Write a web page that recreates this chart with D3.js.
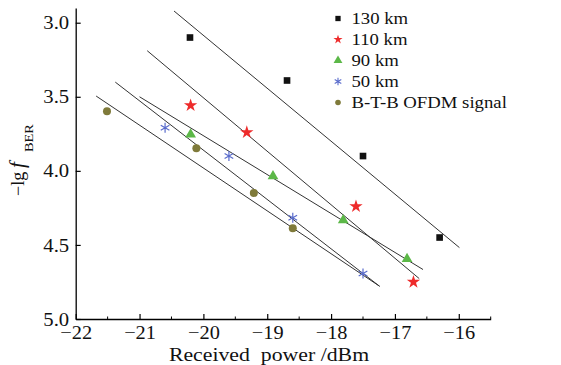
<!DOCTYPE html>
<html><head><meta charset="utf-8">
<script src="https://cdn.jsdelivr.net/npm/d3@7"></script>
<style>
html,body{margin:0;padding:0;background:#fff;}
svg{display:block;font-family:"Liberation Serif","Times New Roman",serif;}
</style></head>
<body>
<svg id="c" width="561" height="365"></svg>
<script>
// ---- data ----
const xTicks = [-22, -21, -20, -19, -18, -17, -16];
const xMinorTicks = [-21.5, -20.5, -19.5, -18.5, -17.5, -16.5, -15.5];
const yTicks = [3.0, 3.5, 4.0, 4.5, 5.0];
const seriesNames = ["130 km", "110 km", "90 km", "50 km", "B-T-B OFDM signal"];
const x130 = [-20.21, -18.69, -17.50, -16.30];
const y130 = [3.10, 3.39, 3.90, 4.45];
const x110 = [-20.20, -19.32, -17.61, -16.71];
const y110 = [3.558, 3.74, 4.24, 4.75];
const x90 = [-20.20, -18.91, -17.81, -16.81];
const y90 = [3.754, 4.036, 4.333, 4.595];
const x50 = [-20.60, -19.60, -18.60, -17.50];
const y50 = [3.709, 3.899, 4.317, 4.693];
const xBtb = [-21.51, -20.11, -19.21, -18.60];
const yBtb = [3.597, 3.847, 4.149, 4.387];
// fitted lines: [x start, x end], [y start, y end]
const fit130x = [-20.46, -15.99], fit130y = [2.921, 4.518];
const fit110x = [-20.88, -16.62], fit110y = [3.189, 4.727];
const fit90x = [-21.00, -16.56], fit90y = [3.500, 4.666];
const fit50x = [-21.38, -17.24], fit50y = [3.401, 4.779];
const fitBtbx = [-21.68, -17.24], fitBtby = [3.495, 4.779];

// ---- chart ----
const svg = d3.select("#c");
const x = d3.scaleLinear().domain([-22, -15.5]).range([75.7, 490.7]);
const y = d3.scaleLinear().domain([2.9, 5.0]).range([7.9, 319]);

function stretch(sel, f) {
  sel.each(function () {
    const len = this.getComputedTextLength();
    d3.select(this).attr("textLength", len * f).attr("lengthAdjust", "spacingAndGlyphs");
  });
}

// fit lines
const fits = [[fit130x, fit130y], [fit110x, fit110y], [fit90x, fit90y], [fit50x, fit50y], [fitBtbx, fitBtby]];
svg.append("g").selectAll("line").data(fits).join("line")
  .attr("x1", d => x(d[0][0])).attr("y1", d => y(d[1][0]))
  .attr("x2", d => x(d[0][1])).attr("y2", d => y(d[1][1]))
  .attr("stroke", "#333").attr("stroke-width", 1);

// axes
const xAxis = svg.append("g").attr("transform", `translate(0,${y(5.0)})`)
  .call(d3.axisBottom(x).tickValues(xTicks).tickSizeInner(-5).tickSizeOuter(0)
    .tickFormat(d => d3.format("d")(d).replace("-", "\u2212")));
xAxis.select(".domain").attr("stroke", "#000").attr("stroke-width", 1.3);
xAxis.selectAll(".tick line").attr("stroke", "#000").attr("stroke-width", 1.2);
xAxis.selectAll(".tick text").attr("font-size", 18.5).attr("fill", "#111").attr("y", 7).attr("dy", "0.72em")
  .attr("font-family", "Liberation Serif");
stretch(xAxis.selectAll(".tick text"), 1.1);
svg.append("g").selectAll("line").data(xMinorTicks).join("line")
  .attr("x1", d => x(d)).attr("x2", d => x(d)).attr("y1", y(5.0)).attr("y2", y(5.0) - 2.5)
  .attr("stroke", "#000").attr("stroke-width", 1);

const yAxis = svg.append("g").attr("transform", `translate(${x(-22)},0)`)
  .call(d3.axisLeft(y).tickValues(yTicks).tickSizeInner(-5).tickSizeOuter(0).tickFormat(d3.format(".1f")));
yAxis.select(".domain").attr("stroke", "#000").attr("stroke-width", 1.3);
yAxis.selectAll(".tick line").attr("stroke", "#000").attr("stroke-width", 1.2);
yAxis.selectAll(".tick text").attr("font-size", 19).attr("fill", "#111").attr("x", -6.5)
  .attr("font-family", "Liberation Serif");
stretch(yAxis.selectAll(".tick text"), 1.09);

// axis titles
const xt = svg.append("text").attr("x", 269).attr("y", 361).attr("text-anchor", "middle")
  .attr("font-size", 18).attr("fill", "#111").text("Received\u00a0\u00a0power\u00a0/dBm");
stretch(xt, 1.21);

const yl = svg.append("g").attr("transform", "translate(24,196) rotate(-90)");
yl.append("text").attr("x", 0).attr("y", 0).attr("font-size", 18).attr("fill", "#111").text("\u2212lg");
yl.append("text").attr("x", 28).attr("y", 0).attr("font-size", 21).attr("font-style", "italic").attr("fill", "#111").text("f");
const ber = yl.append("text").attr("x", 44).attr("y", 9).attr("font-size", 12.5).attr("fill", "#111").text("BER");
stretch(ber, 1.15);

// markers
const plot = svg.append("g");
function pts(xs, ys) { return xs.map((v, i) => [v, ys[i]]); }
const asteriskPath = (r) => {
  let p = "";
  for (let k = 0; k < 3; k++) {
    const a = Math.PI / 2 + k * Math.PI / 3;
    p += `M${r * Math.cos(a)},${r * Math.sin(a)}L${-r * Math.cos(a)},${-r * Math.sin(a)}`;
  }
  return p;
};

const colors = { s130: "#111", s110: "#ee2b2b", s90: "#5cb848", s50: "#5a6ccc", btb: "#7f7a3a" };

plot.selectAll(".sq").data(pts(x130, y130)).join("path").attr("class", "sq")
  .attr("transform", d => `translate(${x(d[0])},${y(d[1])})`)
  .attr("d", d3.symbol(d3.symbolSquare, 44)()).attr("fill", colors.s130);
plot.selectAll(".st").data(pts(x110, y110)).join("path").attr("class", "st")
  .attr("transform", d => `translate(${x(d[0])},${y(d[1])})`)
  .attr("d", d3.symbol(d3.symbolStar, 55)()).attr("fill", colors.s110);
plot.selectAll(".tr").data(pts(x90, y90)).join("path").attr("class", "tr")
  .attr("transform", d => `translate(${x(d[0])},${y(d[1])})`)
  .attr("d", d3.symbol(d3.symbolTriangle, 50)()).attr("fill", colors.s90);
plot.selectAll(".as").data(pts(x50, y50)).join("path").attr("class", "as")
  .attr("transform", d => `translate(${x(d[0])},${y(d[1])})`)
  .attr("d", asteriskPath(5)).attr("stroke", colors.s50).attr("stroke-width", 1.2).attr("fill", "none");
plot.selectAll(".ci").data(pts(xBtb, yBtb)).join("circle").attr("class", "ci")
  .attr("cx", d => x(d[0])).attr("cy", d => y(d[1])).attr("r", 4).attr("fill", colors.btb);

// legend
const lg = svg.append("g");
const rowY = (i) => 18.5 + i * 21;
const lx = 338;
lg.append("path").attr("transform", `translate(${lx},${rowY(0)})`).attr("d", d3.symbol(d3.symbolSquare, 28)()).attr("fill", colors.s130);
lg.append("path").attr("transform", `translate(${lx},${rowY(1)})`).attr("d", d3.symbol(d3.symbolStar, 26)()).attr("fill", colors.s110);
lg.append("path").attr("transform", `translate(${lx},${rowY(2)})`).attr("d", d3.symbol(d3.symbolTriangle, 34)()).attr("fill", colors.s90);
lg.append("path").attr("transform", `translate(${lx},${rowY(3)})`).attr("d", asteriskPath(3.8)).attr("stroke", colors.s50).attr("stroke-width", 1.1).attr("fill", "none");
lg.append("circle").attr("cx", lx).attr("cy", rowY(4)).attr("r", 2.8).attr("fill", colors.btb);
const lt = lg.selectAll(".lt").data(seriesNames).join("text").attr("class", "lt")
  .attr("x", 351.5).attr("y", (d, i) => rowY(i) + 5.5)
  .attr("font-size", 16).attr("fill", "#111").text(d => d);
stretch(lt, 1.17);
</script>
</body></html>
